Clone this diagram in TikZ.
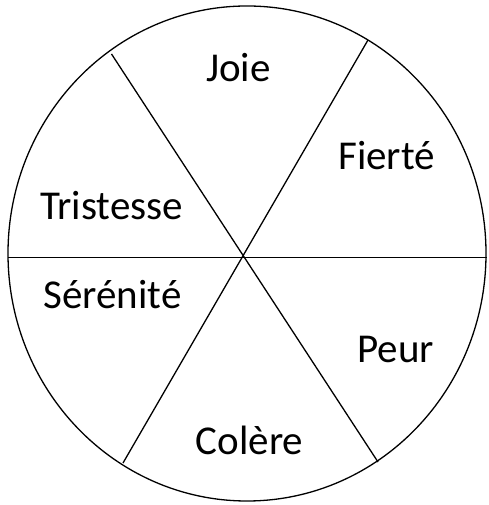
\documentclass[tikz,border=0pt]{standalone}
\usepackage{fontspec}
\setmainfont{Carlito}
\tikzset{
  lbl/.style={anchor=base, font=\fontsize{41}{41}\selectfont, inner sep=0pt},
  edge/.style={line width=1.3pt, black}
}
\begin{document}
\begin{tikzpicture}[x=1pt,y=1pt]
\useasboundingbox (0,0) rectangle (488,505);
\fill[white] (0,0) rectangle (488,505);
\draw[edge] (247,251.5) ellipse [x radius=239, y radius=247.5];
\coordinate (hl) at (8,247.5);
\coordinate (hr) at (487,247.5);
\coordinate (tl) at (111.5,451);
\coordinate (br) at (378,43);
\coordinate (tr) at (368,465);
\coordinate (bl) at (123,42);
\draw[edge] (hl) -- (hr);
\draw[edge] (tl) -- (br);
\draw[edge] (tr) -- (bl);
\node[lbl] (joie) at (238.5,423) {Joie};
\node[lbl] (fierte) at (386.5,335) {Fierté};
\node[lbl] (tristesse) at (111.5,285) {Tristesse};
\node[lbl] (serenite) at (112.5,196) {Sérénité};
\node[lbl] (peur) at (395.5,142) {Peur};
\node[lbl] (colere) at (249.5,50) {Colère};
\end{tikzpicture}
\end{document}
